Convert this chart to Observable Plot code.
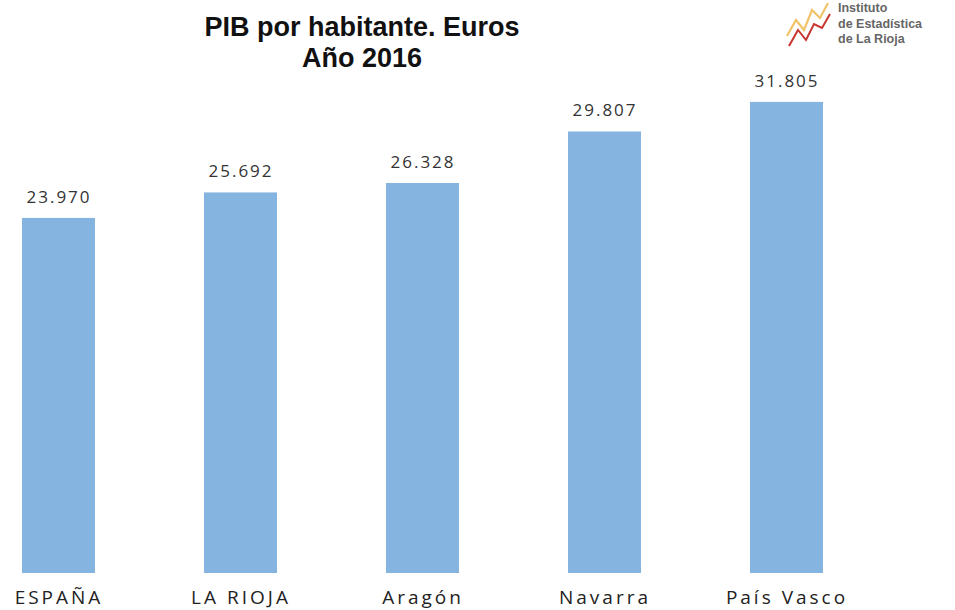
<!DOCTYPE html>
<html>
<head>
<meta charset="utf-8">
<script src="https://cdn.jsdelivr.net/npm/d3@7"></script>
<script src="https://cdn.jsdelivr.net/npm/@observablehq/plot@0.6"></script>
<style>
  html, body { margin: 0; padding: 0; background: #fff; }
  #wrap { position: relative; width: 955px; height: 610px; overflow: hidden; }
  #title { position: absolute; left: 112px; top: 12px; width: 500px; text-align: center;
    font-family: "Liberation Sans", Arial, sans-serif; font-weight: bold; font-size: 27px; line-height: 31px; color: #111; }
  #logo { position: absolute; left: 784px; top: 0px; width: 50px; height: 52px; }
  #logotext { position: absolute; left: 838px; top: 1px; font-family: "Liberation Sans", Arial, sans-serif;
    font-weight: bold; font-size: 12.5px; line-height: 15.5px; color: #666; }
  #chart { position: absolute; left: 0; top: 0; }
  #chart g[aria-label="x-axis tick label"] text { letter-spacing: 3px; }
  #chart g[aria-label="text"] text { letter-spacing: 2px; }
</style>
</head>
<body>
<div id="wrap">
  <div id="chart"></div>
  <div id="title">PIB por habitante. Euros<br>Año 2016</div>
  <svg id="logo" viewBox="0 0 50 52" width="50" height="52">
    <polyline points="3,36 12,20 20,30 28,10 36,18 44,3" fill="none" stroke="#f2c46a" stroke-width="2.2"/>
    <polyline points="5,46 14,30 22,40 30,24 38,28 46,14" fill="none" stroke="#c8362e" stroke-width="2"/>
  </svg>
  <div id="logotext">Instituto<br>de Estadística<br>de La Rioja</div>
</div>
<script>
const regions = ["ESPAÑA", "LA RIOJA", "Aragón", "Navarra", "País Vasco"];
const values = [23970, 25692, 26328, 29807, 31805];

const data = regions.map((r, i) => ({region: r, value: values[i]}));
const fmt = d3.formatLocale({thousands: ".", decimal: ",", grouping: [3], currency: ["", "€"]}).format(",d");

const chart = Plot.plot({
  width: 955,
  height: 610,
  marginLeft: 21,
  marginRight: 131,
  marginTop: 99,
  marginBottom: 37,
  x: {domain: regions, paddingInner: 0.6, paddingOuter: 0, label: null},
  y: {domain: [0, 32000], axis: null},
  style: {fontFamily: "'Open Sans', sans-serif", background: "transparent"},
  marks: [
    Plot.barY(data, {x: "region", y: "value", fill: "#85b4e0"}),
    Plot.text(data, {x: "region", y: "value", text: d => fmt(d.value), dy: -21,
      fontSize: 17, fill: "#333"}),
    Plot.axisX({tickSize: 0, tickPadding: 17, fontSize: 19, fill: "#222"})
  ]
});
document.getElementById("chart").appendChild(chart);
</script>
</body>
</html>
